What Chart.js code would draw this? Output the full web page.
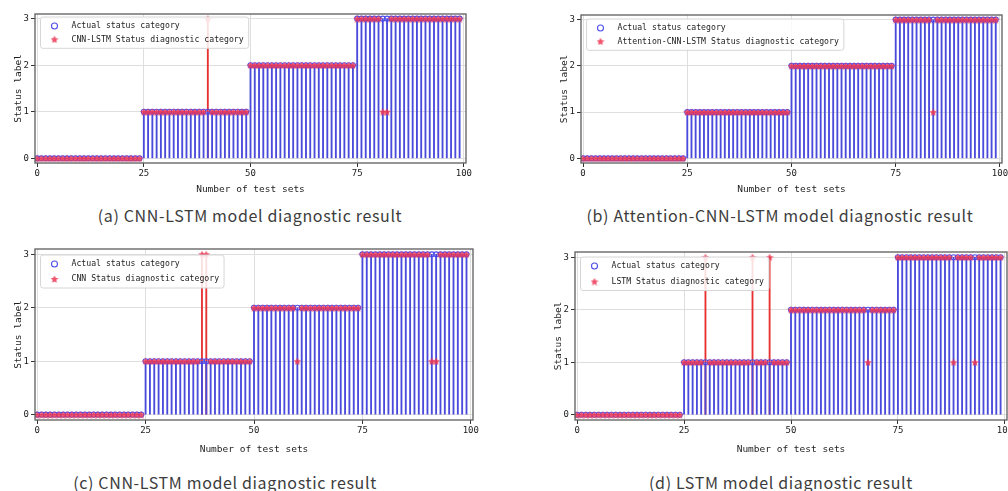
<!DOCTYPE html>
<html>
<head>
<meta charset="utf-8">
<script src="https://cdn.jsdelivr.net/npm/chart.js@4.4.1/dist/chart.umd.min.js"></script>
<style>
  html, body { margin: 0; padding: 0; background: #fff; }
  #page { position: relative; width: 1008px; height: 491px; overflow: hidden; }
  #page canvas { position: absolute; }
  .caption {
    position: absolute;
    font-family: "Noto Sans CJK SC", "Noto Sans", sans-serif;
    font-size: 16px;
    letter-spacing: 0.65px;
    color: #3c3c3c;
    white-space: nowrap;
    transform: translate(-50%, -50%);
  }
</style>
</head>
<body>
<div id="page">
  <canvas id="chartA" width="480" height="195" style="left:0;top:0"></canvas>
  <canvas id="chartB" width="463" height="195" style="left:545px;top:0"></canvas>
  <canvas id="chartC" width="480" height="220" style="left:0;top:235px"></canvas>
  <canvas id="chartD" width="468" height="220" style="left:540px;top:235px"></canvas>
  <div class="caption" style="left:250px;top:215px">(a) CNN-LSTM model diagnostic result</div>
  <div class="caption" style="left:780px;top:215px">(b) Attention-CNN-LSTM model diagnostic result</div>
  <div class="caption" style="left:225px;top:482px">(c) CNN-LSTM model diagnostic result</div>
  <div class="caption" style="left:781px;top:482px">(d) LSTM model diagnostic result</div>
</div>
<script>
const X_TICKS = [0, 25, 50, 75, 100];
const Y_TICKS = [0, 1, 2, 3];

// true status of each test set, 25 per row
const actual = [
  0,0,0,0,0,0,0,0,0,0,0,0,0,0,0,0,0,0,0,0,0,0,0,0,0,
  1,1,1,1,1,1,1,1,1,1,1,1,1,1,1,1,1,1,1,1,1,1,1,1,1,
  2,2,2,2,2,2,2,2,2,2,2,2,2,2,2,2,2,2,2,2,2,2,2,2,2,
  3,3,3,3,3,3,3,3,3,3,3,3,3,3,3,3,3,3,3,3,3,3,3,3,3
];

const cnnLstmPred = [
  0,0,0,0,0,0,0,0,0,0,0,0,0,0,0,0,0,0,0,0,0,0,0,0,0,
  1,1,1,1,1,1,1,1,1,1,1,1,1,1,1,3,1,1,1,1,1,1,1,1,1,
  2,2,2,2,2,2,2,2,2,2,2,2,2,2,2,2,2,2,2,2,2,2,2,2,2,
  3,3,3,3,3,3,1,1,3,3,3,3,3,3,3,3,3,3,3,3,3,3,3,3,3
];

const attnPred = [
  0,0,0,0,0,0,0,0,0,0,0,0,0,0,0,0,0,0,0,0,0,0,0,0,0,
  1,1,1,1,1,1,1,1,1,1,1,1,1,1,1,1,1,1,1,1,1,1,1,1,1,
  2,2,2,2,2,2,2,2,2,2,2,2,2,2,2,2,2,2,2,2,2,2,2,2,2,
  3,3,3,3,3,3,3,3,3,1,3,3,3,3,3,3,3,3,3,3,3,3,3,3,3
];

const cnnPred = [
  0,0,0,0,0,0,0,0,0,0,0,0,0,0,0,0,0,0,0,0,0,0,0,0,0,
  1,1,1,1,1,1,1,1,1,1,1,1,1,3,3,1,1,1,1,1,1,1,1,1,1,
  2,2,2,2,2,2,2,2,2,2,1,2,2,2,2,2,2,2,2,2,2,2,2,2,2,
  3,3,3,3,3,3,3,3,3,3,3,3,3,3,3,3,1,1,3,3,3,3,3,3,3
];

const lstmPred = [
  0,0,0,0,0,0,0,0,0,0,0,0,0,0,0,0,0,0,0,0,0,0,0,0,0,
  1,1,1,1,1,3,1,1,1,1,1,1,1,1,1,1,3,1,1,1,3,1,1,1,1,
  2,2,2,2,2,2,2,2,2,2,2,2,2,2,2,2,2,2,1,2,2,2,2,2,2,
  3,3,3,3,3,3,3,3,3,3,3,3,3,1,3,3,3,3,1,3,3,3,3,3,3
];

const ACTUAL_LABEL = "Actual status category";

const BLUE_STEM = "#4a4adc";
const RED_STEM = "#e83232";
const BLUE_RING = "rgba(70,70,235,0.95)";
const STAR_FILL = "rgba(236,55,85,0.85)";
const TEXT = "#1c1c1c";
const MONO = "'DejaVu Sans Mono', monospace";

// small filled five-point star used as the prediction marker
function makeStar(size, color) {
  const c = document.createElement("canvas");
  c.width = c.height = size;
  const g = c.getContext("2d");
  const R = size / 2, r = R * 0.5;
  g.beginPath();
  for (let k = 0; k < 10; k++) {
    const a = -Math.PI / 2 + k * Math.PI / 5;
    const rad = k % 2 ? r : R;
    g.lineTo(R + rad * Math.cos(a), R + 0.4 + rad * Math.sin(a));
  }
  g.closePath();
  g.fillStyle = color;
  g.fill();
  return c;
}
const star = makeStar(8, STAR_FILL);

// axes frame + legend box drawn inside the plot area
const framePlugin = {
  id: "frame",
  afterDraw(chart, args, opts) {
    const { ctx, chartArea: a } = chart;
    ctx.save();
    ctx.strokeStyle = "#5c5c5c";
    ctx.lineWidth = 1.3;
    ctx.strokeRect(a.left, a.top, a.right - a.left, a.bottom - a.top);

    const lg = opts.legend;
    const fontPx = 9.5, sx = 0.86;
    ctx.font = fontPx + "px " + MONO;
    const textW = Math.max(...lg.labels.map((t) => ctx.measureText(t).width)) * sx;
    const left = a.left + lg.dx;
    const y1 = a.top + lg.y1, y2 = y1 + lg.gap;
    const top = y1 - 9, bottom = y2 + 9;
    const right = left + 31 + textW + 5;
    ctx.beginPath();
    ctx.roundRect(left, top, right - left, bottom - top, 2.5);
    ctx.fillStyle = "rgba(255,255,255,0.85)";
    ctx.fill();
    ctx.strokeStyle = "#d6d6d6";
    ctx.lineWidth = 1;
    ctx.stroke();

    ctx.beginPath();
    ctx.arc(left + 14, y1, 3, 0, Math.PI * 2);
    ctx.strokeStyle = BLUE_RING;
    ctx.lineWidth = 1.1;
    ctx.stroke();
    ctx.drawImage(star, left + 14 - star.width / 2, y2 - star.height / 2);

    ctx.fillStyle = TEXT;
    ctx.textBaseline = "middle";
    [y1, y2].forEach((y, i) => {
      ctx.save();
      ctx.translate(left + 31, y);
      ctx.scale(sx, 1);
      ctx.fillText(lg.labels[i], 0, 0);
      ctx.restore();
    });
    ctx.restore();
  }
};

const PANELS = [
  { id: "chartA", pred: cnnLstmPred, name: "CNN-LSTM Status diagnostic category",
    yAxisW: 35, xAxisH: 32, pad: { top: 14, right: 14 }, yTitlePad: 13, xTitlePad: 8,
    legend: { dx: 5.5, y1: 12, gap: 13.3 } },
  { id: "chartB", pred: attnPred, name: "Attention-CNN-LSTM Status diagnostic category",
    yAxisW: 36, xAxisH: 32, pad: { top: 15, right: 6 }, yTitlePad: 14, xTitlePad: 8,
    legend: { dx: 5.5, y1: 13, gap: 13.3 } },
  { id: "chartC", pred: cnnPred, name: "CNN Status diagnostic category",
    yAxisW: 35, xAxisH: 35, pad: { top: 14, right: 7 }, yTitlePad: 13, xTitlePad: 8,
    legend: { dx: 5.5, y1: 15, gap: 15 } },
  { id: "chartD", pred: lstmPred, name: "LSTM Status diagnostic category",
    yAxisW: 35, xAxisH: 35, pad: { top: 17, right: 1 }, yTitlePad: 13, xTitlePad: 8,
    legend: { dx: 5.5, y1: 14, gap: 15.5 } }
];

function fixedTicks(values) {
  return (scale) => { scale.ticks = values.map((v) => ({ value: v })); };
}

PANELS.forEach((p) => {
  new Chart(document.getElementById(p.id), {
    type: "bar",
    data: {
      datasets: [
        {
          // predicted stems sit under the actual ones; only the part above a blue stem shows
          type: "bar",
          data: p.pred.map((v, i) => ({ x: i, y: [0, v] })),
          backgroundColor: (c) => (p.pred[c.dataIndex] > actual[c.dataIndex] ? RED_STEM : "rgba(0,0,0,0)"),
          barThickness: 1.2,
          grouped: false,
          order: 4
        },
        {
          type: "bar",
          data: actual.map((v, i) => ({ x: i, y: [0, v] })),
          backgroundColor: BLUE_STEM,
          barThickness: 1.2,
          grouped: false,
          order: 3
        },
        {
          type: "scatter",
          label: ACTUAL_LABEL,
          data: actual.map((v, i) => ({ x: i, y: v })),
          pointStyle: "circle",
          pointRadius: 2.5,
          pointBorderWidth: 1.1,
          pointBorderColor: BLUE_RING,
          pointBackgroundColor: "rgba(0,0,0,0)",
          order: 2
        },
        {
          type: "scatter",
          label: p.name,
          data: p.pred.map((v, i) => ({ x: i, y: v })),
          pointStyle: star,
          pointRadius: 3,
          order: 1
        }
      ]
    },
    options: {
      responsive: false,
      animation: false,
      devicePixelRatio: 1,
      events: [],
      layout: { autoPadding: false, padding: { left: 0, bottom: 0, top: p.pad.top, right: p.pad.right } },
      scales: {
        x: {
          type: "linear",
          min: -0.5,
          max: 100.5,
          offset: false,
          afterBuildTicks: fixedTicks(X_TICKS),
          afterFit: (s) => { s.height = p.xAxisH; s.paddingLeft = 0; s.paddingRight = 0; },
          grid: { color: "#dedede", lineWidth: 1, offset: false, drawTicks: true, tickLength: 4, tickColor: "#333" },
          border: { display: false },
          ticks: { color: TEXT, font: { family: MONO, size: 9 }, padding: 1, maxRotation: 0, autoSkip: false },
          title: { display: true, text: "Number of test sets", color: TEXT,
                   font: { family: MONO, size: 9.5 }, padding: { top: p.xTitlePad, bottom: 0 } }
        },
        y: {
          type: "linear",
          min: -0.1,
          max: 3.1,
          afterBuildTicks: fixedTicks(Y_TICKS),
          afterFit: (s) => { s.width = p.yAxisW; s.paddingTop = 0; s.paddingBottom = 0; },
          grid: { color: "#dedede", lineWidth: 1, drawTicks: true, tickLength: 4, tickColor: "#333" },
          border: { display: false },
          ticks: { color: TEXT, font: { family: MONO, size: 9 }, padding: 2 },
          title: { display: true, text: "Status label", color: TEXT,
                   font: { family: MONO, size: 9.5 }, padding: { top: p.yTitlePad, bottom: 0 } }
        }
      },
      plugins: {
        legend: { display: false },
        tooltip: { enabled: false },
        frame: { legend: { labels: [ACTUAL_LABEL, p.name], dx: p.legend.dx, y1: p.legend.y1, gap: p.legend.gap } }
      }
    },
    plugins: [framePlugin]
  });
});
</script>
</body>
</html>
